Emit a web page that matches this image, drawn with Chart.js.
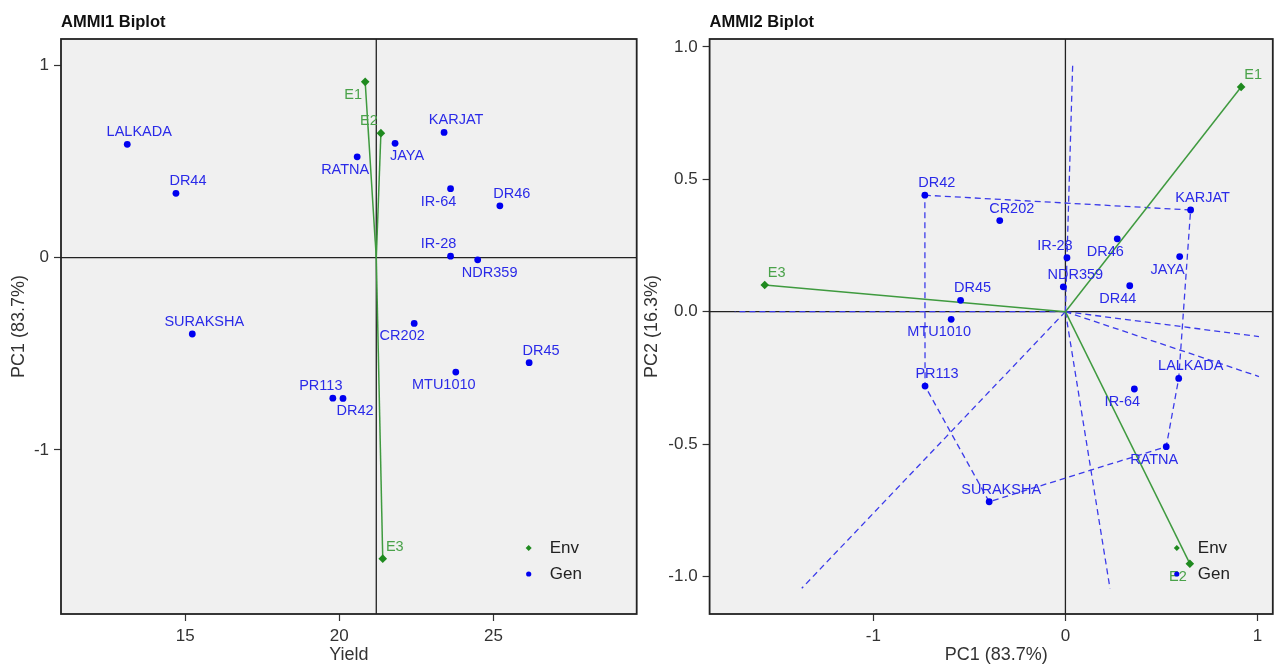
<!DOCTYPE html>
<html><head><meta charset="utf-8">
<script src="https://cdn.jsdelivr.net/npm/chart.js@4.4.1/dist/chart.umd.min.js"></script>
<style>
html,body{margin:0;padding:0;background:#fff;}
body{width:1274px;height:664px;overflow:hidden;position:relative;}
#c1{position:absolute;left:0;top:0;width:640px;height:664px;}
#c2{position:absolute;left:640px;top:0;width:634px;height:664px;}
</style></head>
<body>
<canvas id="c1" width="640" height="664"></canvas>
<canvas id="c2" width="634" height="664"></canvas>
<script>
// ---------- DATA ----------
const genotypes = ['LALKADA','DR44','SURAKSHA','RATNA','JAYA','KARJAT','IR-64','DR46','IR-28','NDR359','CR202','DR45','MTU1010','PR113','DR42'];
const genYield  = [13.12, 14.70, 15.23, 20.58, 21.81, 23.40, 23.61, 25.21, 23.61, 24.49, 22.43, 26.16, 23.78, 19.79, 20.12];
const genPC1    = [0.590, 0.335, -0.397, 0.525, 0.595, 0.652, 0.359, 0.270, 0.008, -0.011, -0.342, -0.546, -0.595, -0.731, -0.732];
const genPC2    = [-0.252, 0.098, -0.718, -0.510, 0.208, 0.384, -0.292, 0.275, 0.204, 0.094, 0.344, 0.043, -0.029, -0.281, 0.440];
const environments = ['E1','E2','E3'];
const envYield  = [20.84, 21.35, 21.41];
const envPC1    = [0.915, 0.648, -1.566];
const envPC2    = [0.849, -0.952, 0.101];
const grandMean = 21.20;
const hullOrder = ['DR42','KARJAT','LALKADA','RATNA','SURAKSHA','PR113'];
const rayEndPC1 = [0.038, -1.722, -1.373, 0.232, 1.008, 1.008];
const rayEndPC2 = [0.938, 0.000, -1.045, -1.045, -0.094, -0.245];
const yieldTicks = [15, 20, 25];
const pc1TicksA = [-1, 0, 1];
const pc1TicksB = [-1, 0, 1];
const pc2Ticks  = [-1.0, -0.5, 0.0, 0.5, 1.0];
const legendItems = ['Env','Gen'];

// ---------- label placement (pixel offsets, style only) ----------
const DIRS = {ne:[12,-12], se:[12,13], sw:[-12,13], nw:[-12,-12]};
const labelDir1 = {LALKADA:'ne',DR44:'ne',SURAKSHA:'ne',RATNA:'sw',JAYA:'se',KARJAT:'ne','IR-64':'sw',DR46:'ne','IR-28':'nw',NDR359:'se',CR202:'sw',DR45:'ne',MTU1010:'sw',PR113:'nw',DR42:'se',E1:'sw',E2:'nw',E3:'ne'};
const labelDir2 = {E1:'ne',E3:'ne',DR42:'ne',CR202:'ne',KARJAT:'ne',DR46:'sw','IR-28':'nw',JAYA:'sw',NDR359:'ne',DR44:'sw',DR45:'ne',MTU1010:'sw',PR113:'ne','IR-64':'sw',LALKADA:'ne',RATNA:'sw',SURAKSHA:'ne',E2:'sw'};

// ---------- styles ----------
const FONT = "'Liberation Sans', Arial, sans-serif";
const BLUE = '#0000f0', BLUE_TXT = '#2a2ae8', BLUE_DASH = '#3b3bea';
const GREEN_PT = '#1f8a1f', GREEN_LINE = '#3f9a3f', GREEN_TXT = '#4aa24a';

function mkScale(min, max, ticks, fmt, isY, size) {
  return {
    type: 'linear', min: min, max: max,
    afterBuildTicks: s => { s.ticks = ticks.map(v => ({value: v})); },
    afterFit: s => {
      if (isY) s.width = size; else s.height = size;
      s.paddingLeft = 0; s.paddingRight = 0; s.paddingTop = 0; s.paddingBottom = 0;
    },
    ticks: { font: {size: 17, family: FONT}, color: '#333', padding: 5,
             maxRotation: 0, autoSkip: false, callback: fmt },
    grid: { display: true, drawOnChartArea: false, drawTicks: true, tickLength: 7,
            tickColor: '#333', tickWidth: 1.2 },
    border: { display: false }
  };
}

function framePlugin(cfg) {
  return {
    id: 'frame_' + cfg.id,
    beforeDatasetsDraw(chart) {
      const {ctx, chartArea: a, scales: {x, y}} = chart;
      ctx.save();
      ctx.fillStyle = '#f0f0f0';
      ctx.fillRect(a.left, a.top, a.right - a.left, a.bottom - a.top);
      ctx.strokeStyle = '#222'; ctx.lineWidth = 1.3;
      const vx = x.getPixelForValue(cfg.refX), hy = y.getPixelForValue(0);
      ctx.beginPath(); ctx.moveTo(vx, a.top); ctx.lineTo(vx, a.bottom); ctx.stroke();
      ctx.beginPath(); ctx.moveTo(a.left, hy); ctx.lineTo(a.right, hy); ctx.stroke();
      ctx.restore();
    },
    afterDatasetsDraw(chart) {
      const {ctx, chartArea: a, scales: {x, y}} = chart;
      ctx.save();
      // point labels
      ctx.font = '14.5px ' + FONT; ctx.textAlign = 'center'; ctx.textBaseline = 'middle';
      cfg.labels.forEach(l => {
        const d = DIRS[l.dir];
        ctx.fillStyle = l.color;
        ctx.fillText(l.text, x.getPixelForValue(l.x) + d[0], y.getPixelForValue(l.y) + d[1]);
      });
      // frame
      ctx.strokeStyle = '#222'; ctx.lineWidth = 1.8;
      ctx.strokeRect(a.left, a.top, a.right - a.left, a.bottom - a.top);
      // title
      ctx.fillStyle = '#111'; ctx.textAlign = 'left'; ctx.textBaseline = 'alphabetic';
      ctx.font = 'bold 16.5px ' + FONT;
      ctx.fillText(cfg.title, a.left, 27);
      // axis titles
      ctx.fillStyle = '#333'; ctx.font = '18px ' + FONT; ctx.textAlign = 'center'; ctx.textBaseline = 'middle';
      ctx.fillText(cfg.xTitle, (a.left + a.right) / 2 + cfg.xTitleShift, 655);
      ctx.save(); ctx.translate(cfg.yTitleX, (a.top + a.bottom) / 2); ctx.rotate(-Math.PI / 2);
      ctx.fillText(cfg.yTitle, 0, 0); ctx.restore();
      // legend
      const lx = a.right - cfg.legRight, ly = [a.bottom - 66, a.bottom - 40];
      ctx.fillStyle = GREEN_PT;
      ctx.beginPath(); ctx.moveTo(lx, ly[0] - 3); ctx.lineTo(lx + 3, ly[0]); ctx.lineTo(lx, ly[0] + 3); ctx.lineTo(lx - 3, ly[0]); ctx.closePath(); ctx.fill();
      ctx.fillStyle = BLUE;
      ctx.beginPath(); ctx.arc(lx, ly[1], 2.6, 0, Math.PI * 2); ctx.fill();
      ctx.fillStyle = '#222'; ctx.textAlign = 'left'; ctx.font = '17px ' + FONT;
      ctx.fillText(legendItems[0], lx + 21, ly[0]);
      ctx.fillText(legendItems[1], lx + 21, ly[1]);
      ctx.restore();
    }
  };
}

// ---------- AMMI1 ----------
const genPts1 = genotypes.map((g, i) => ({x: genYield[i], y: genPC1[i]}));
const envPts1 = environments.map((e, i) => ({x: envYield[i], y: envPC1[i]}));
const labels1 = genotypes.map((g, i) => ({text: g, x: genYield[i], y: genPC1[i], color: BLUE_TXT, dir: labelDir1[g]}))
  .concat(environments.map((e, i) => ({text: e, x: envYield[i], y: envPC1[i], color: GREEN_TXT, dir: labelDir1[e]})));

const ds1 = [
  {data: genPts1, pointStyle: 'circle', pointRadius: 3.4, pointBackgroundColor: BLUE, pointBorderWidth: 0, showLine: false, order: 0},
  {data: envPts1, pointStyle: 'rectRot', pointRadius: 4.3, pointBackgroundColor: GREEN_PT, pointBorderWidth: 0, showLine: false, order: 1}
];
environments.forEach((e, i) => ds1.push({
  data: [{x: grandMean, y: 0}, {x: envYield[i], y: envPC1[i]}], showLine: true, pointRadius: 0,
  borderColor: GREEN_LINE, borderWidth: 1.5, order: 2
}));

new Chart(document.getElementById('c1'), {
  type: 'scatter',
  data: {datasets: ds1},
  options: {
    responsive: false, animation: false, devicePixelRatio: 1,
    layout: {autoPadding: false, padding: {top: 39, right: 3.3, left: 0, bottom: 0}},
    plugins: {legend: {display: false}, tooltip: {enabled: false}},
    scales: {
      x: mkScale(10.97, 29.65, yieldTicks, v => String(v), false, 50),
      y: mkScale(-1.854, 1.138, pc1TicksA, v => String(v), true, 61)
    }
  },
  plugins: [framePlugin({id: 1, refX: grandMean, labels: labels1, title: 'AMMI1 Biplot',
    xTitle: 'Yield', xTitleShift: 0, yTitle: 'PC1 (83.7%)', yTitleX: 19, legRight: 108})]
});

// ---------- AMMI2 ----------
const genPts2 = genotypes.map((g, i) => ({x: genPC1[i], y: genPC2[i]}));
const envPts2 = environments.map((e, i) => ({x: envPC1[i], y: envPC2[i]}));
const labels2 = genotypes.map((g, i) => ({text: g, x: genPC1[i], y: genPC2[i], color: BLUE_TXT, dir: labelDir2[g]}))
  .concat(environments.map((e, i) => ({text: e, x: envPC1[i], y: envPC2[i], color: GREEN_TXT, dir: labelDir2[e]})));
const hullPts = hullOrder.concat([hullOrder[0]]).map(n => { const i = genotypes.indexOf(n); return {x: genPC1[i], y: genPC2[i]}; });

const ds2 = [
  {data: genPts2, pointStyle: 'circle', pointRadius: 3.4, pointBackgroundColor: BLUE, pointBorderWidth: 0, showLine: false, order: 0},
  {data: envPts2, pointStyle: 'rectRot', pointRadius: 4.3, pointBackgroundColor: GREEN_PT, pointBorderWidth: 0, showLine: false, order: 1}
];
environments.forEach((e, i) => ds2.push({
  data: [{x: 0, y: 0}, {x: envPC1[i], y: envPC2[i]}], showLine: true, pointRadius: 0,
  borderColor: GREEN_LINE, borderWidth: 1.5, order: 2
}));
ds2.push({data: hullPts, showLine: true, pointRadius: 0, borderColor: BLUE_DASH, borderWidth: 1.3, borderDash: [6, 4], order: 3});
rayEndPC1.forEach((rx, i) => ds2.push({
  data: [{x: 0, y: 0}, {x: rx, y: rayEndPC2[i]}], showLine: true, pointRadius: 0,
  borderColor: BLUE_DASH, borderWidth: 1.3, borderDash: [6, 4], order: 4
}));

new Chart(document.getElementById('c2'), {
  type: 'scatter',
  data: {datasets: ds2},
  options: {
    responsive: false, animation: false, devicePixelRatio: 1,
    layout: {autoPadding: false, padding: {top: 39, right: 1.2, left: 0, bottom: 0}},
    plugins: {legend: {display: false}, tooltip: {enabled: false}},
    scales: {
      x: mkScale(-1.853, 1.080, pc1TicksB, v => String(v), false, 50),
      y: mkScale(-1.142, 1.030, pc2Ticks, v => Number(v).toFixed(1), true, 69.6)
    }
  },
  plugins: [framePlugin({id: 2, refX: 0, labels: labels2, title: 'AMMI2 Biplot',
    xTitle: 'PC1 (83.7%)', xTitleShift: 5, yTitle: 'PC2 (16.3%)', yTitleX: 12, legRight: 96})]
});
</script>
</body></html>
